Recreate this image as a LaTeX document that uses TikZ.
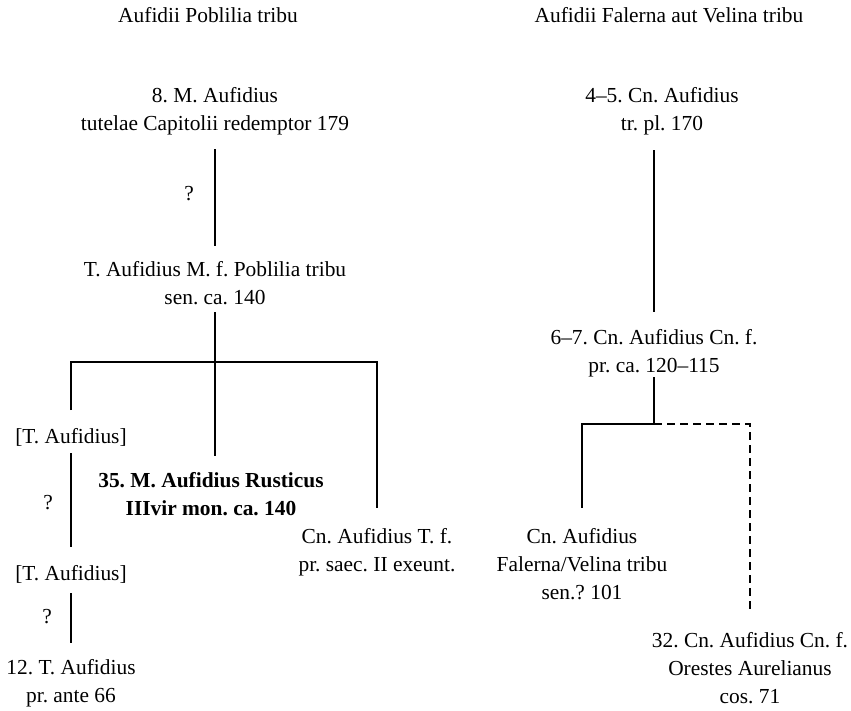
\documentclass[tikz,border=0pt]{standalone}
\usepackage{fontspec}
\setmainfont{Liberation Serif}
\usetikzlibrary{calc}
\frenchspacing
\tikzset{
  lbl/.style={inner sep=0pt, outer sep=0pt, align=center, font=\fontsize{21.4}{28}\selectfont\frenchspacing, text=black},
  conn/.style={line width=1.8pt, draw=black},
  dconn/.style={line width=1.8pt, draw=black, dash pattern=on 8pt off 5pt}
}
\begin{document}
\begin{tikzpicture}[x=1pt,y=-1pt]
\useasboundingbox (0,0) rectangle (851,710);
% headers
\node[lbl, anchor=north] (h1) at (208,7.4) {Aufidii Poblilia tribu};
\node[lbl, anchor=north] (h2) at (669,7.4) {Aufidii Falerna aut Velina tribu};
% left family
\node[lbl, anchor=north] (m8) at (215,87.4) {8. M. Aufidius\\tutelae Capitolii redemptor 179};
\node[lbl, anchor=base] (q1) at (189,200) {?};
\node[lbl, anchor=north] (ta) at (215,261.4) {T. Aufidius M. f. Poblilia tribu\\sen. ca. 140};
\node[lbl, anchor=base] (tb1) at (71,443) {[T. Aufidius]};
\node[lbl, anchor=north, font=\fontsize{21.4}{28}\selectfont\frenchspacing\bfseries] (r35) at (211,472.4) {35. M. Aufidius Rusticus\\IIIvir mon. ca. 140};
\node[lbl, anchor=north] (cnT) at (377,528.4) {Cn. Aufidius T. f.\\pr. saec. II exeunt.};
\node[lbl, anchor=base] (q2) at (48,509) {?};
\node[lbl, anchor=base] (tb2) at (71,580) {[T. Aufidius]};
\node[lbl, anchor=base] (q3) at (47,623) {?};
\node[lbl, anchor=north] (t12) at (71,659.4) {12. T. Aufidius\\pr. ante 66};
% right family
\node[lbl, anchor=north] (c45) at (662,87.4) {4–5. Cn. Aufidius\\tr. pl. 170};
\node[lbl, anchor=north] (c67) at (654,329.4) {6–7. Cn. Aufidius Cn. f.\\pr. ca. 120–115};
\node[lbl, anchor=north] (cnF) at (582,528.4) {Cn. Aufidius\\Falerna/Velina tribu\\sen.? 101};
\node[lbl, anchor=north] (c32) at (750,632.4) {32. Cn. Aufidius Cn. f.\\Orestes Aurelianus\\cos. 71};
% junctions
\coordinate (j1) at ($(ta.north)+(0,100.6)$);
\coordinate (j2) at ($(c67.north)+(0,94.6)$);
% left connectors
\draw[conn] ($(m8.north)+(0,61.6)$) -- ($(ta.north)+(0,-15.4)$);
\draw[conn] ($(ta.north)+(0,50.6)$) -- (j1);
\draw[conn] ($(tb1.base)+(0,-33)$) |- (j1) -| ($(cnT.north)+(0,-20.4)$);
\draw[conn] (j1) -- ($(j1 |- r35.north)+(0,-16.4)$);
\draw[conn] ($(tb1.base)+(0,10)$) -- ($(tb2.base)+(0,-33)$);
\draw[conn] ($(tb2.base)+(0,13)$) -- ($(t12.north)+(0,-16.4)$);
% right connectors
\draw[conn] ($(c45.north -| c67.north)+(0,62.6)$) -- ($(c67.north)+(0,-17.4)$);
\draw[conn] ($(c67.north)+(0,47.6)$) -- (j2);
\draw[conn] (j2) -| ($(cnF.north)+(0,-20.4)$);
\draw[dconn] (j2) -| ($(c32.north)+(0,-19.4)$);
\end{tikzpicture}
\end{document}
